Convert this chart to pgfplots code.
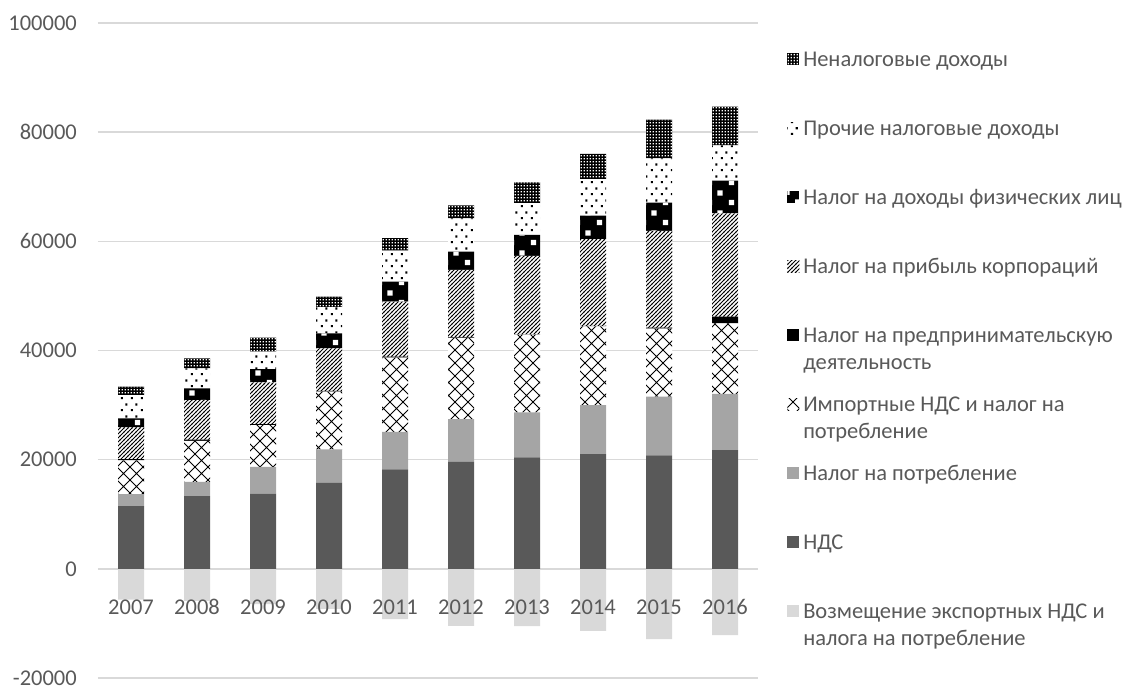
\documentclass[border=0pt]{standalone}
\usepackage{fontspec}
\setmainfont{Carlito}
\usepackage{pgfplots}
\pgfplotsset{compat=1.18}
\usetikzlibrary{patterns}
\definecolor{cA}{HTML}{595959}
\definecolor{cB}{HTML}{A5A5A5}
\definecolor{cD}{HTML}{D9D9D9}
\newcommand\chartfont{\fontsize{22.5}{27}\selectfont}
\newcommand\legtxt[1]{\begin{tabular}[t]{@{}l@{}}#1\end{tabular}}
\pgfdeclarepatternformonly{diagcross}{\pgfqpoint{-1pt}{-1pt}}{\pgfqpoint{14pt}{14pt}}{\pgfqpoint{13pt}{13pt}}{%
  \pgfsetlinewidth{0.85pt}%
  \pgfpathmoveto{\pgfqpoint{0pt}{0pt}}\pgfpathlineto{\pgfqpoint{13pt}{13pt}}%
  \pgfpathmoveto{\pgfqpoint{0pt}{13pt}}\pgfpathlineto{\pgfqpoint{13pt}{0pt}}%
  \pgfusepath{stroke}}
\pgfdeclarepatternformonly{nelines}{\pgfqpoint{-1pt}{-1pt}}{\pgfqpoint{5pt}{5pt}}{\pgfqpoint{4pt}{4pt}}{%
  \pgfsetlinewidth{0.9pt}%
  \pgfpathmoveto{\pgfqpoint{-0.5pt}{-0.5pt}}\pgfpathlineto{\pgfqpoint{4.5pt}{4.5pt}}%
  \pgfusepath{stroke}}
\pgfdeclarepatternformonly{dotsparse}{\pgfqpoint{0pt}{0pt}}{\pgfqpoint{10pt}{12pt}}{\pgfqpoint{10pt}{12pt}}{%
  \pgfpathrectangle{\pgfqpoint{1pt}{1pt}}{\pgfqpoint{2.2pt}{2.2pt}}%
  \pgfpathrectangle{\pgfqpoint{6pt}{7pt}}{\pgfqpoint{2.2pt}{2.2pt}}%
  \pgfusepath{fill}}
\pgfdeclarepatternformonly{sqsparse}{\pgfqpoint{0pt}{0pt}}{\pgfqpoint{22pt}{20pt}}{\pgfqpoint{22pt}{20pt}}{%
  \pgfpathrectangle{\pgfqpoint{3pt}{3pt}}{\pgfqpoint{5.5pt}{5.5pt}}%
  \pgfpathrectangle{\pgfqpoint{14pt}{13pt}}{\pgfqpoint{5.5pt}{5.5pt}}%
  \pgfusepath{fill}}
\pgfdeclarepatternformonly{sqdense}{\pgfqpoint{0pt}{0pt}}{\pgfqpoint{3.2pt}{3.2pt}}{\pgfqpoint{3.2pt}{3.2pt}}{%
  \pgfpathrectangle{\pgfqpoint{0.8pt}{0.8pt}}{\pgfqpoint{1.6pt}{1.6pt}}%
  \pgfusepath{fill}}
\begin{document}
\begin{tikzpicture}
\useasboundingbox (0,0) rectangle (1128pt,688pt);
% negative series (export refunds), drawn first
\begin{axis}[at={(98pt,10pt)}, anchor=south west, scale only axis,
  width=660pt, height=655pt, xmin=-0.5, xmax=9.5, ymin=-20000, ymax=100000,
  hide axis, ybar, bar width=26pt]
\addplot[fill=cD, draw=none] coordinates {(0,-5635) (1,-5866) (2,-6487) (3,-7328) (4,-9205) (5,-10429) (6,-10519) (7,-11356) (8,-12867) (9,-12154)};
\end{axis}
\begin{axis}[at={(98pt,10pt)}, anchor=south west, scale only axis,
  width=660pt, height=655pt, xmin=-0.5, xmax=9.5, ymin=-20000, ymax=100000,
  ybar stacked, bar width=26pt,
  axis line style={draw=none}, tick style={draw=none},
  xtick={0,...,9}, xticklabels={2007,2008,2009,2010,2011,2012,2013,2014,2015,2016},
  ytick={-20000,0,20000,40000,60000,80000,100000},
  yticklabels={-20000,0,20000,40000,60000,80000,100000},
  scaled y ticks=false,
  ymajorgrids, grid style={draw=cD, line width=1.5pt},
  tick label style={font=\chartfont, text=cA},
  yticklabel style={inner sep=0pt, xshift=-21pt},
  xticklabel style={inner sep=0pt, anchor=base, yshift=63pt},
  reverse legend, legend cell align=left,
  legend image code/.code={\path[#1,draw=none] (0pt,9.2pt) rectangle (12pt,21.2pt);},
  legend style={at={(rel axis cs:1.044,0.9633)}, anchor=north west, draw=none, fill=none,
    row sep=15pt, inner sep=0pt, font=\chartfont,
    nodes={inner sep=0pt, text=cA, text height=19pt, text depth=35pt},
    /tikz/every odd column/.append style={column sep=4pt}},
]
\addlegendimage{fill=cD, draw=none}
\addlegendentry{\legtxt{Возмещение экспортных НДС и\\налога на потребление}}
\addplot[fill=cA, draw=none] coordinates {(0,11470) (1,13300) (2,13790) (3,15750) (4,18200) (5,19600) (6,20400) (7,21000) (8,20800) (9,21740)};
\addlegendentry{\legtxt{НДС}}
\addplot[fill=cB, draw=none] coordinates {(0,2200) (1,2630) (2,4890) (3,6120) (4,6900) (5,7830) (6,8260) (7,9000) (8,10750) (9,10320)};
\addlegendentry{\legtxt{Налог на потребление}}
\addplot[fill=white, draw=none, postaction={pattern=diagcross}] coordinates {(0,6200) (1,7500) (2,7670) (3,10600) (4,13590) (5,14820) (6,14230) (7,14400) (8,12470) (9,12910)};
\addlegendentry{\legtxt{Импортные НДС и налог на\\потребление}}
\addplot[fill=black, draw=none] coordinates {(0,230) (1,230) (2,165) (3,155) (4,175) (5,170) (6,80) (7,100) (8,180) (9,1250)};
\addlegendentry{\legtxt{Налог на предпринимательскую\\деятельность}}
\addplot[fill=white, draw=none, postaction={pattern=nelines}] coordinates {(0,5800) (1,7260) (2,7645) (3,7775) (4,10095) (5,12350) (6,14370) (7,15900) (8,17730) (9,18880)};
\addlegendentry{\legtxt{Налог на прибыль корпораций}}
\addplot[fill=black, draw=none, postaction={pattern=sqsparse, pattern color=white}] coordinates {(0,1660) (1,2140) (2,2440) (3,2750) (4,3660) (5,3360) (6,3850) (7,4300) (8,5170) (9,6000)};
\addlegendentry{\legtxt{Налог на доходы физических лиц}}
\addplot[fill=white, draw=none, postaction={pattern=dotsparse}] coordinates {(0,4270) (1,3670) (2,3180) (3,4780) (4,5680) (5,6070) (6,5810) (7,6700) (8,8100) (9,6500)};
\addlegendentry{\legtxt{Прочие налоговые доходы}}
\addplot[fill=black, draw=none, postaction={pattern=sqdense, pattern color=white}] coordinates {(0,1530) (1,1840) (2,2570) (3,1940) (4,2300) (5,2400) (6,3800) (7,4600) (8,7100) (9,7100)};
\addlegendentry{\legtxt{Неналоговые доходы}}
\end{axis}
\end{tikzpicture}
\end{document}
